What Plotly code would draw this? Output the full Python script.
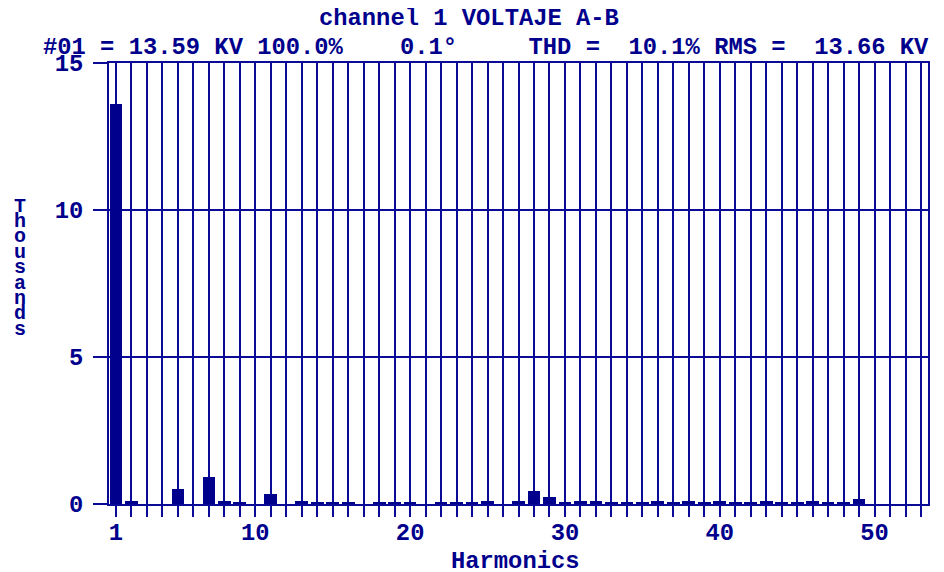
import plotly.graph_objects as go

harmonics = list(range(1, 54))
values_thousands = [
    13.60, 0.11, 0.0, 0.0, 0.52, 0.0, 0.93, 0.10, 0.05, 0.0,
    0.33, 0.0, 0.10, 0.05, 0.05, 0.05, 0.0, 0.05, 0.05, 0.05,
    0.0, 0.05, 0.05, 0.05, 0.10, 0.0, 0.10, 0.44, 0.24, 0.05,
    0.10, 0.10, 0.05, 0.05, 0.05, 0.10, 0.05, 0.10, 0.05, 0.10,
    0.05, 0.05, 0.10, 0.05, 0.05, 0.10, 0.05, 0.05, 0.17, 0.0,
    0.0, 0.0, 0.0,
]
x_tick_labels = {1: "1", 10: "10", 20: "20", 30: "30", 40: "40", 50: "50"}
y_ticks = [0, 5, 10, 15]

title_text = "channel 1 VOLTAJE A-B"
info_text = "#01 = 13.59 KV 100.0%    0.1°     THD =  10.1% RMS =  13.66 KV"
x_title = "Harmonics"
y_title = "Thousands"

NAVY = "rgb(0,0,140)"
LINE = "rgb(10,10,150)"
FONT = "Liberation Mono"
FS = 23.8

# the page body has an 8px margin, so work in page coords shifted by 8px
OFF = 8
FIG_W, FIG_H = 944 - OFF, 572 - OFF

fig = go.Figure()
fig.add_trace(go.Bar(
    x=harmonics, y=values_thousands, width=0.82,
    marker=dict(color=NAVY, line=dict(width=0)),
))

# plot area pixel geometry (in screenshot pixels)
L, R, T, B = 109, 928, 63, 504
W, H = R - L, B - T

def px(xp):
    return (xp - L) / W

def py(yp):
    return (B - yp) / H

nb = lambda s: s.replace(" ", "\u00a0")

ann = [
    dict(text=nb(title_text), x=px(469), y=py(18)),
    dict(text=nb(info_text), x=px(486), y=py(47)),
    dict(text=nb(x_title), x=px(515), y=py(561)),
]
for i, ch in enumerate(y_title):
    ann.append(dict(text=ch, x=px(20), y=py(206 + 15.4 * i), size=20))

annotations = []
for a in ann:
    annotations.append(dict(
        text=a["text"], x=a["x"], y=a["y"], xref="paper", yref="paper",
        xanchor="center", yanchor="middle", showarrow=False,
        font=dict(family=FONT, size=a.get("size", FS), color=NAVY, weight="bold"),
    ))

fig.update_layout(
    width=FIG_W, height=FIG_H,
    margin=dict(l=L - OFF, r=FIG_W - (R - OFF), t=T - OFF, b=FIG_H - (B - OFF), pad=0),
    paper_bgcolor="white", plot_bgcolor="white",
    showlegend=False,
    bargap=0,
    annotations=annotations,
    xaxis=dict(
        range=[0.55, 53.45],
        tickmode="array",
        tickvals=harmonics,
        ticktext=[x_tick_labels.get(h, "") for h in harmonics],
        ticks="outside", ticklen=11, tickwidth=2, tickcolor=LINE,
        showgrid=True, gridcolor=LINE, gridwidth=2,
        showline=True, linecolor=LINE, linewidth=2, mirror=True,
        zeroline=False,
        ticklabelstandoff=-6,
        tickfont=dict(family=FONT, size=FS, color=NAVY, weight="bold"),
    ),
    yaxis=dict(
        range=[0, 15],
        tickmode="array", tickvals=y_ticks,
        ticktext=[str(v) for v in y_ticks],
        ticks="outside", ticklen=14, tickwidth=2, tickcolor=LINE,
        showgrid=True, gridcolor=LINE, gridwidth=2,
        showline=True, linecolor=LINE, linewidth=2, mirror=True,
        zeroline=False,
        ticklabelstandoff=5,
        tickfont=dict(family=FONT, size=FS, color=NAVY, weight="bold"),
    ),
)

fig.write_html("out.html")
